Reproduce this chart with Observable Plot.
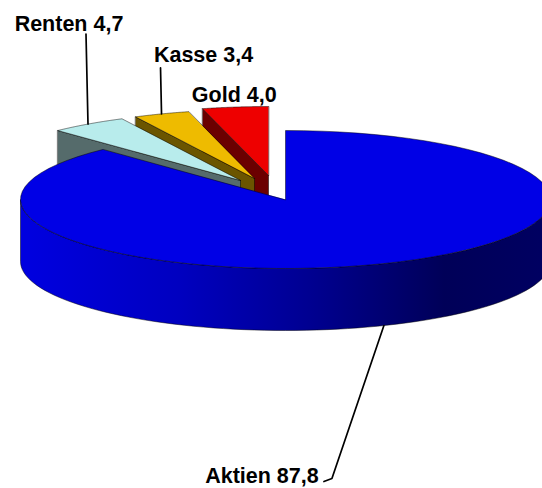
<!DOCTYPE html>
<html><head><meta charset="utf-8">
<script src="https://cdn.jsdelivr.net/npm/d3@7"></script>
<script src="https://cdn.jsdelivr.net/npm/@observablehq/plot@0.6"></script>
<style>html,body{margin:0;padding:0;background:#fff;overflow:hidden}svg{display:block}</style>
</head><body><div id="chart"></div>
<script>
// Data, clockwise from twelve o'clock
const names = ["Aktien", "Renten", "Kasse", "Gold"];
const values = [87.8, 4.7, 3.4, 4.0];
const valueLabels = ["87,8", "4,7", "3,4", "4,0"];

// Styles per slice
const topColors = ["#0000e6", "#b8ecec", "#eebb00", "#ee0000"];
const wallColors = ["#000060", "#556b6b", "#6b5500", "#6b0000"];

// Projection of the 3D pie and its layout
const W = 542, H = 488;
const cx = 285, cy = 199, rx = 265, ry = 69, depth = 62;
const explode = [[0, 0], [-45, -19], [-31, -21], [-17, -24]];
const labelOffset = [[-122, 151], [-19, -100], [42, -59], [-1, -12]];
const leaderEnd = [[[-52, 153], [-60, 156]], [[-2, -90]], [[-1, -46]], []];

const total = d3.sum(values);
const cum = d3.cumsum(values);
const a0 = values.map((v, i) => ((cum[i] - v) / total) * 2 * Math.PI);
const a1 = values.map((v, i) => (cum[i] / total) * 2 * Math.PI);
const onRim = (i, a, z = 0) => ({
  x: cx + explode[i][0] + rx * Math.sin(a),
  y: cy + explode[i][1] - ry * Math.cos(a) + z
});
const arc = (i, from, to, z = 0) =>
  d3.range(0, 81).map((k) => onRim(i, from + ((to - from) * k) / 80, z));
const apex = (i, z = 0) => ({x: cx + explode[i][0], y: cy + explode[i][1] + z});

const polys = [];
const add = (id, fill, pts) => pts.forEach((p) => polys.push({...p, id, fill}));

// Back to front: Gold, Kasse, Renten, then Aktien on top
for (const i of [3, 2, 1]) {
  const r0 = onRim(i, a0[i]);
  add(`w${i}`, wallColors[i], [r0, apex(i), apex(i, depth), onRim(i, a0[i], depth)]);
  add(`t${i}`, topColors[i], [apex(i), ...arc(i, a0[i], a1[i])]);
}
const wallPts = [...arc(0, Math.PI / 2, 1.5 * Math.PI), ...arc(0, 1.5 * Math.PI, Math.PI / 2, depth)];
add("w0", "url(#wall)", wallPts);
add("t0", topColors[0], [apex(0), ...arc(0, a0[0], a1[0])]);

const mid = (i) => (a0[i] + a1[i]) / 2;
const anchors = names.map((_, i) => onRim(i, mid(i), i === 0 ? depth : 0));

const labels = names.map((n, i) => ({
  text: `${n} ${valueLabels[i]}`,
  x: anchors[i].x + labelOffset[i][0],
  y: anchors[i].y + labelOffset[i][1]
}));

const leaders = [];
names.forEach((n, i) => {
  if (!leaderEnd[i].length) return;
  leaders.push({id: n, x: anchors[i].x, y: anchors[i].y});
  leaderEnd[i].forEach((o) => leaders.push({id: n, x: anchors[i].x + o[0], y: anchors[i].y + o[1]}));
});

const gradient = () => {
  const svg = d3.create("svg:g");
  const g = svg.append("defs").append("linearGradient")
    .attr("id", "wall").attr("x1", 0).attr("x2", 1).attr("y1", 0).attr("y2", 0);
  [[0, "#0000e0"], [0.3, "#0000c0"], [0.55, "#000090"], [0.8, "#000058"], [1, "#000062"]]
    .forEach(([o, c]) => g.append("stop").attr("offset", o).attr("stop-color", c));
  return svg.node();
};

const chart = Plot.plot({
  width: W, height: H, margin: 0,
  x: {domain: [0, W], range: [0, W], axis: null},
  y: {domain: [0, H], range: [0, H], axis: null},
  style: {background: "#fff", fontFamily: "'Liberation Sans', Arial, sans-serif"},
  marks: [
    gradient,
    Plot.line(polys, {x: "x", y: "y", z: "id", fill: "fill", stroke: "#000", strokeWidth: 0.6,
      strokeOpacity: 0.8, curve: "linear-closed"}),
    Plot.line(leaders, {x: "x", y: "y", z: "id", stroke: "#000", strokeWidth: 1.7, curve: "linear"}),
    Plot.text(labels, {x: "x", y: "y", text: "text", fontSize: 21.5, fontWeight: 700, fill: "#000",
      textAnchor: "middle", lineAnchor: "middle", fontFamily: "'Liberation Sans', Arial, sans-serif"})
  ]
});
document.getElementById("chart").append(chart);
</script></body></html>
